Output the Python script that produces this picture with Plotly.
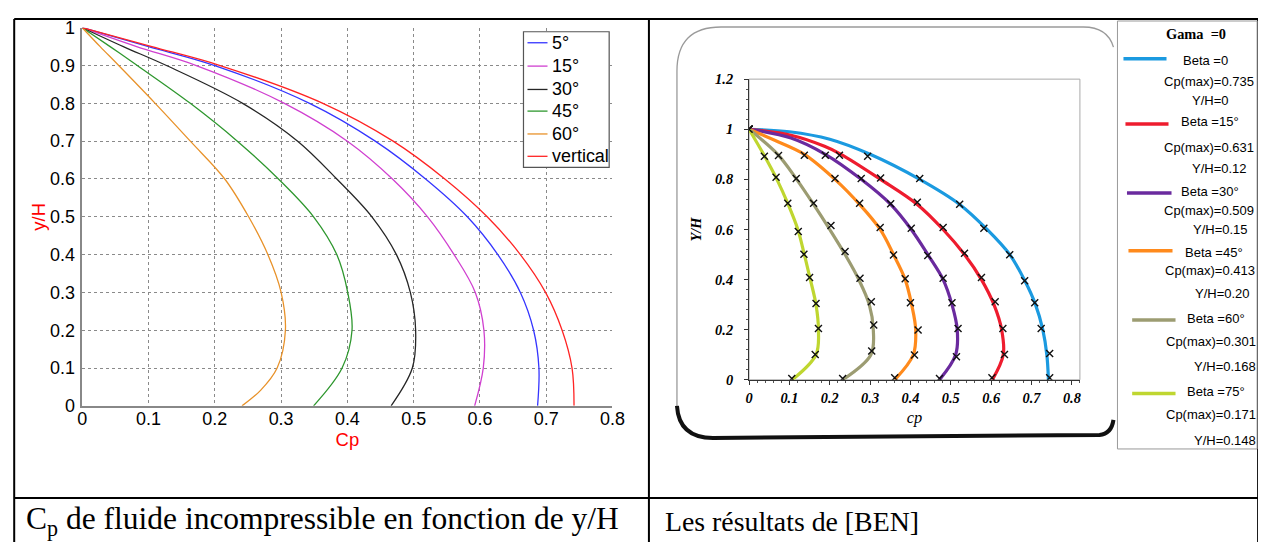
import plotly.graph_objects as go

W, H = 1290, 566
# the photographed page maps figure px -> picture px as  pic = A + S * fig
AX, AY = 12.8, 17.0
SX, SY = 0.9857, 0.9625
FS = 1.0 / 0.975  # font compensation

# ---- left chart: Cp of incompressible fluid vs y/H (MATLAB style) ----
left_names = ["5°", "15°", "30°", "45°", "60°", "vertical"]
left_colors = ["#3535FF", "#D040D0", "#262626", "#2E972E", "#E8922A", "#FF2424"]

y_left = [1, 0.95, 0.9, 0.8, 0.7, 0.6, 0.5, 0.4, 0.3, 0.2, 0.1, 0]
cp_5 = [0, 0.1, 0.2, 0.343, 0.442, 0.518, 0.581, 0.627, 0.661, 0.681, 0.689, 0.687]
cp_15 = [0, 0.082, 0.172, 0.305, 0.40, 0.468, 0.521, 0.561, 0.593, 0.606, 0.605, 0.592]
cp_30 = [0, 0.062, 0.127, 0.242, 0.325, 0.384, 0.437, 0.474, 0.495, 0.503, 0.498, 0.466]
cp_45 = [0, 0.042, 0.083, 0.163, 0.234, 0.296, 0.349, 0.384, 0.4005, 0.407, 0.392, 0.349]
cp_vert = [0, 0.105, 0.208, 0.363, 0.469, 0.547, 0.611, 0.661, 0.699, 0.724, 0.739, 0.742]
y_60 = [1, 0.95, 0.9, 0.8, 0.7, 0.6, 0.5, 0.4, 0.3, 0.2, 0.1, 0.041, 0]
cp_60 = [0, 0.027, 0.055, 0.11, 0.163, 0.215, 0.251, 0.28, 0.3, 0.3065, 0.294, 0.269, 0.241]

left_cp = [cp_5, cp_15, cp_30, cp_45, cp_60, cp_vert]
left_y = [y_left, y_left, y_left, y_left, y_60, y_left]

# ---- right chart: results of [BEN] ----
beta_labels = ["Beta =0", "Beta =15°", "Beta =30°", "Beta =45°", "Beta =60°", "Beta =75°"]
cp_max_labels = ["Cp(max)=0.735", "Cp(max)=0.631", "Cp(max)=0.509",
                 "Cp(max)=0.413", "Cp(max)=0.301", "Cp(max)=0.171"]
yh_labels = ["Y/H=0", "Y/H=0.12", "Y/H=0.15", "Y/H=0.20", "Y/H=0.168", "Y/H=0.148"]
right_colors = ["#1B9AE0", "#EE1C2E", "#6A2A9E", "#FF8A1C", "#9C9C72", "#BFD630"]

# curves
y_grid = [1, 0.9, 0.8, 0.7, 0.6, 0.5, 0.4, 0.3, 0.2, 0.1, 0]
ln_b0 = ([0, 0.1, 0.2, 0.30, 0.423, 0.522, 0.59, 0.646, 0.682, 0.710, 0.728, 0.738, 0.742],
         [1, 0.99, 0.96, 0.9, 0.8, 0.7, 0.6, 0.5, 0.4, 0.3, 0.2, 0.1, 0])
ln_b15 = ([0, 0.104, 0.187, 0.228, 0.326, 0.417, 0.481, 0.534, 0.576, 0.607, 0.626, 0.630, 0.603],
          [1, 0.976, 0.932, 0.9, 0.8, 0.7, 0.6, 0.5, 0.4, 0.3, 0.2, 0.1, 0])
ln_b30 = ([0, 0.104, 0.189, 0.278, 0.351, 0.402, 0.443, 0.481, 0.503, 0.516, 0.512, 0.472],
          [1, 0.965, 0.9, 0.8, 0.7, 0.6, 0.5, 0.4, 0.3, 0.2, 0.1, 0])
ln_b45 = ([0, 0.065, 0.137, 0.213, 0.274, 0.325, 0.358, 0.387, 0.403, 0.413, 0.407, 0.361],
          [1, 0.955, 0.9, 0.8, 0.7, 0.6, 0.5, 0.4, 0.3, 0.2, 0.1, 0])
ln_b60 = ([0, 0.071, 0.118, 0.160, 0.200, 0.238, 0.272, 0.298, 0.308, 0.302, 0.232], y_grid)
ln_b75 = ([0, 0.036, 0.069, 0.097, 0.121, 0.137, 0.152, 0.166, 0.172, 0.166, 0.107], y_grid)
right_lines = [ln_b0, ln_b15, ln_b30, ln_b45, ln_b60, ln_b75]

# cross markers
mk_b0 = ([0, 0.294, 0.423, 0.522, 0.582, 0.646, 0.683, 0.708, 0.724, 0.745, 0.745],
         [1, 0.892, 0.803, 0.701, 0.605, 0.499, 0.395, 0.308, 0.205, 0.105, 0.008])
mk_b15 = ([0, 0.224, 0.326, 0.417, 0.481, 0.534, 0.576, 0.610, 0.629, 0.633, 0.602],
          [1, 0.896, 0.805, 0.709, 0.608, 0.505, 0.408, 0.312, 0.205, 0.101, 0.008])
mk_b30 = ([0, 0.189, 0.278, 0.351, 0.402, 0.443, 0.481, 0.503, 0.518, 0.514, 0.472],
          [1, 0.896, 0.803, 0.703, 0.605, 0.496, 0.405, 0.308, 0.205, 0.092, 0.005])
mk_b45 = ([0, 0.137, 0.213, 0.274, 0.325, 0.358, 0.387, 0.400, 0.419, 0.410, 0.361],
          [1, 0.896, 0.803, 0.705, 0.608, 0.498, 0.403, 0.308, 0.199, 0.099, 0.008])
mk_b60 = ([0, 0.073, 0.117, 0.160, 0.203, 0.238, 0.275, 0.303, 0.309, 0.304, 0.232],
          [1, 0.895, 0.803, 0.705, 0.616, 0.512, 0.405, 0.312, 0.219, 0.115, 0.005])
mk_b75 = ([0, 0.038, 0.067, 0.096, 0.122, 0.136, 0.150, 0.166, 0.172, 0.164, 0.106],
          [1, 0.892, 0.808, 0.705, 0.592, 0.501, 0.408, 0.305, 0.205, 0.101, 0.005])
right_marks = [mk_b0, mk_b15, mk_b30, mk_b45, mk_b60, mk_b75]


def px(x):
    # picture pixel -> paper fraction
    return (x - AX) / SX / W


def py(y):
    return 1 - (y - AY) / SY / H


def fz(s):
    return round(s * FS, 2)


fig = go.Figure()

for name, col, xs, ys in zip(left_names, left_colors, left_cp, left_y):
    fig.add_trace(go.Scatter(x=xs, y=ys, name=name, mode="lines", line_shape="spline",
                             line=dict(color=col, width=1.3), xaxis="x", yaxis="y",
                             showlegend=False))

for col, (xs, ys), (mx, my), name in zip(right_colors, right_lines, right_marks, beta_labels):
    fig.add_trace(go.Scatter(x=xs, y=ys, name=name, mode="lines", line_shape="spline",
                             line=dict(color=col, width=3.2), xaxis="x2", yaxis="y2",
                             showlegend=False))
    fig.add_trace(go.Scatter(x=mx, y=my, mode="markers", xaxis="x2", yaxis="y2",
                             marker=dict(symbol="x-thin", size=7,
                                         line=dict(color="#111", width=1.4)),
                             showlegend=False))

RIGHT = 1256.5  # last visible column of the picture

shapes = []
# table borders
blk = dict(color="black", width=2)
for x0, y0, x1, y1 in [(14, 18, RIGHT, 18), (14, 18, 14, 560), (648, 18, 648, 560),
                       (RIGHT, 18, RIGHT, 560), (14, 496, RIGHT, 496)]:
    shapes.append(dict(type="line", xref="paper", yref="paper",
                       x0=px(x0), y0=py(y0), x1=px(x1), y1=py(y1), line=blk))

# left legend box + samples
shapes.append(dict(type="rect", xref="paper", yref="paper", x0=px(522.7), x1=px(608.3),
                   y0=py(166), y1=py(30.7), fillcolor="white",
                   line=dict(color="#555", width=1.2)))
left_leg_y = [41.7, 65, 88.3, 109.9, 132.7, 155]
for col, yy in zip(left_colors, left_leg_y):
    shapes.append(dict(type="line", xref="paper", yref="paper", x0=px(526.7), x1=px(546.7),
                       y0=py(yy), y1=py(yy), line=dict(color=col, width=1.3)))

# right rounded frame
gray_frame = "M {},{} L {},{} Q {},{} {},{} L {},{} Q {},{} {},{}".format(
    px(676), py(408), px(676), py(70), px(676), py(26), px(720), py(26),
    px(1082), py(26), px(1106), py(26), px(1112), py(46))
black_frame = "M {},{} Q {},{} {},{} L {},{} Q {},{} {},{}".format(
    px(676), py(404), px(678), py(436), px(712), py(436),
    px(1098), py(433), px(1110), py(432), px(1112), py(418))
shapes.append(dict(type="path", xref="paper", yref="paper", path=gray_frame,
                   line=dict(color="#9a9a9a", width=1.3)))
shapes.append(dict(type="path", xref="paper", yref="paper", path=black_frame,
                   line=dict(color="#111", width=4)))

# right plot box
shapes.append(dict(type="rect", xref="x2 domain", yref="y2 domain", x0=0, x1=1, y0=0, y1=1,
                   line=dict(color="#aaa", width=1), layer="below"))

# right legend box + samples
shapes.append(dict(type="rect", xref="paper", yref="paper", x0=px(1116), x1=px(RIGHT - 1),
                   y0=py(447), y1=py(20), line=dict(color="#999", width=1)))
right_leg_lines = [(1122, 1165, 57.7), (1124, 1167, 122.7), (1125.5, 1170, 191.7),
                   (1127, 1171, 249.3), (1130.7, 1174, 318.3), (1130.7, 1174, 391.7)]
for col, (x0, x1, yy) in zip(right_colors, right_leg_lines):
    shapes.append(dict(type="line", xref="paper", yref="paper", x0=px(x0), x1=px(x1),
                       y0=py(yy), y1=py(yy), line=dict(color=col, width=3.5)))

ann = []
sans = "Liberation Sans, Arial, sans-serif"
serif = "Liberation Serif, Times New Roman, serif"

for name, yy in zip(left_names, left_leg_y):
    ann.append(dict(text=name, xref="paper", yref="paper", x=px(549), y=py(yy),
                    xanchor="left", yanchor="middle", showarrow=False,
                    font=dict(family=sans, size=fz(17.5), color="black")))

ann.append(dict(text="<b>Gama  =0</b>", xref="paper", yref="paper", x=px(1194.5), y=py(33.3),
                xanchor="center", yanchor="middle", showarrow=False,
                font=dict(family=serif, size=fz(14), color="black")))
beta_pos = [(1204, 59), (1208.5, 120), (1208, 190), (1212, 250.7), (1214, 317.3), (1214, 390)]
cpm_pos = [(1207.5, 80), (1207.5, 146), (1207.5, 209.3), (1208, 269.3), (1209, 340), (1209, 412.7)]
yh_pos = [(1209, 99.3), (1218, 166.7), (1219, 228), (1221, 291.7), (1223, 365), (1223, 438.3)]
for labels, pos in [(beta_labels, beta_pos), (cp_max_labels, cpm_pos), (yh_labels, yh_pos)]:
    for t, (xx, yy) in zip(labels, pos):
        ann.append(dict(text=t, xref="paper", yref="paper", x=px(xx), y=py(yy),
                        xanchor="center", yanchor="middle", showarrow=False,
                        font=dict(family=sans, size=13, color="black")))

# captions
ann.append(dict(text="C<sub>p</sub> de fluide incompressible en fonction de y/H", xref="paper",
                yref="paper", x=px(24), y=py(519), xanchor="left", yanchor="middle",
                showarrow=False, font=dict(family=serif, size=31.5, color="black")))
ann.append(dict(text="Les résultats de [BEN]", xref="paper", yref="paper", x=px(662), y=py(519),
                xanchor="left", yanchor="middle", showarrow=False,
                font=dict(family=serif, size=27.8, color="black")))

tick_font = dict(family=sans, size=fz(17.5), color="black")
bi_font = dict(family=serif, size=fz(14), color="black", style="italic", weight="bold")

fig.update_layout(
    width=W, height=H,
    margin=dict(l=0, r=0, t=0, b=0),
    paper_bgcolor="white", plot_bgcolor="white",
    showlegend=False,
    shapes=shapes, annotations=ann,
    xaxis=dict(domain=[px(82), px(611.6)], range=[0, 0.8], dtick=0.1, anchor="y",
               showgrid=True, gridcolor="#8a8a8a", griddash="dot", gridwidth=1,
               showline=True, linecolor="#888", linewidth=1.5, zeroline=False,
               ticks="", tickfont=tick_font, ticklabelstandoff=-4,
               title=dict(text="Cp", font=dict(family=sans, size=fz(18), color="red"), standoff=0)),
    yaxis=dict(domain=[py(404), py(26.7)], range=[0, 1], dtick=0.1, anchor="x",
               showgrid=True, gridcolor="#8a8a8a", griddash="dot", gridwidth=1,
               showline=True, linecolor="#888", linewidth=1.5, zeroline=False,
               ticks="", tickfont=tick_font, ticklabelstandoff=2,
               title=dict(text="y/H", font=dict(family=sans, size=fz(18), color="red"), standoff=0)),
    xaxis2=dict(domain=[px(748), px(1078.5)], range=[0, 0.82],
                tickvals=[0, 0.1, 0.2, 0.3, 0.4, 0.5, 0.6, 0.7, 0.8],
                anchor="y2", showgrid=False, zeroline=False,
                showline=True, linecolor="#333", linewidth=1.2,
                ticks="outside", ticklen=4, tickcolor="#333",
                minor=dict(ticks="outside", ticklen=2, dtick=0.02, tickcolor="#555"),
                tickfont=bi_font, ticklabelstandoff=1,
                title=dict(text="<i>cp</i>", font=dict(family=serif, size=fz(16), color="black"), standoff=6)),
    yaxis2=dict(domain=[py(378), py(78)], range=[0, 1.2], dtick=0.2, anchor="x2",
                showgrid=False, zeroline=False,
                showline=True, linecolor="#333", linewidth=1.2,
                ticks="outside", ticklen=4, tickcolor="#333",
                minor=dict(ticks="outside", ticklen=2, dtick=0.04, tickcolor="#555"),
                tickfont=bi_font, ticklabelstandoff=8,
                title=dict(text="<b><i>Y/H</i></b>", font=dict(family=serif, size=fz(14), color="black"), standoff=10)),
)

fig.write_html("out.html")
